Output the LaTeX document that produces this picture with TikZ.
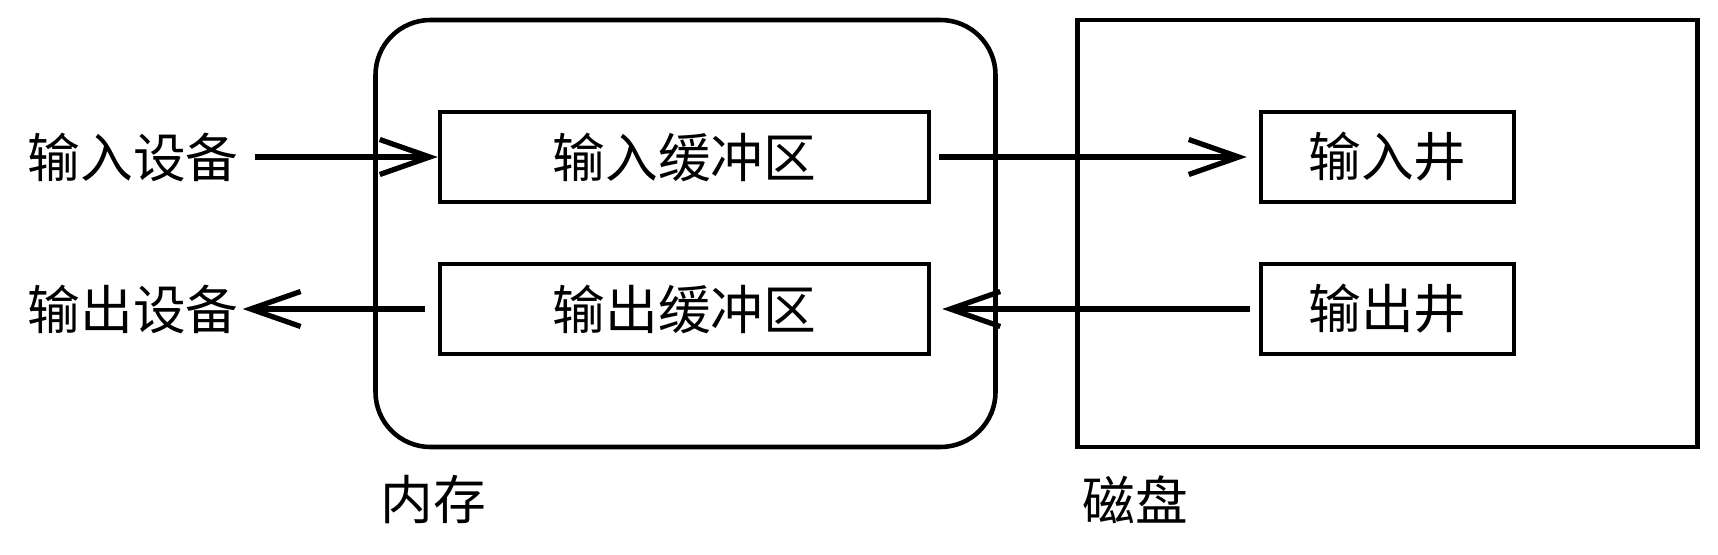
\documentclass[tikz,border=0pt]{standalone}
\usepackage{fontspec}
\setmainfont{Noto Sans CJK SC}
\usepackage{tikz}
\usetikzlibrary{arrows.meta, positioning}
\tikzset{
    region/.style = {
        rectangle,
        draw,
        line width=1.3pt,
        minimum width=6.2cm,
        minimum height=4.27cm
    },
    block/.style = {
        rectangle,
        draw,
        line width=1.3pt,
        minimum height=0.9cm,
        align=center,
        font=\fontsize{15pt}{18pt}\selectfont
    },
    tag/.style = {
        inner sep=1pt,
        font=\fontsize{15pt}{18pt}\selectfont
    },
    line/.style = {
        draw,
        line width=1.5pt,
        -{Straight Barb[length=0.5cm, width=0.35cm, line width=1.5pt]}
    }
}

\begin{document}
\begin{tikzpicture}
\useasboundingbox (0,0) rectangle (17.18,5.54);

% Memory and disk
\node [region, rounded corners=0.55cm] (mem) at (6.855,3.205) {};
\node [region] (disk) at (13.875,3.205) {};
\node [tag, below=0.22cm of mem.south west, anchor=north west, xshift=0.03cm] (memtag) {内存};
\node [tag, below=0.22cm of disk.south west, anchor=north west, xshift=0.03cm] (disktag) {磁盘};

% Buffers in memory
\node [block, minimum width=4.89cm] (inbuf) at (6.845,3.97) {输入缓冲区};
\node [block, minimum width=4.89cm] (outbuf) at (6.845,2.45) {输出缓冲区};

% Wells on disk
\node [block, minimum width=2.53cm] (inwell) at (13.875,3.97) {输入井};
\node [block, minimum width=2.53cm] (outwell) at (13.875,2.45) {输出井};

% Devices
\node [tag] (indev) at (1.33,3.97) {输入设备};
\node [tag] (outdev) at (1.33,2.45) {输出设备};

% Data flow
\draw [line, shorten <=0.12cm] (indev) -- (inbuf);
\draw [line, shorten <=0.13cm] (outbuf) -- (outdev);
\draw [line, shorten <=0.08cm, shorten >=0.12cm] (inbuf) -- (inwell);
\draw [line, shorten <=0.09cm, shorten >=0.11cm] (outwell) -- (outbuf);

\end{tikzpicture}
\end{document}
